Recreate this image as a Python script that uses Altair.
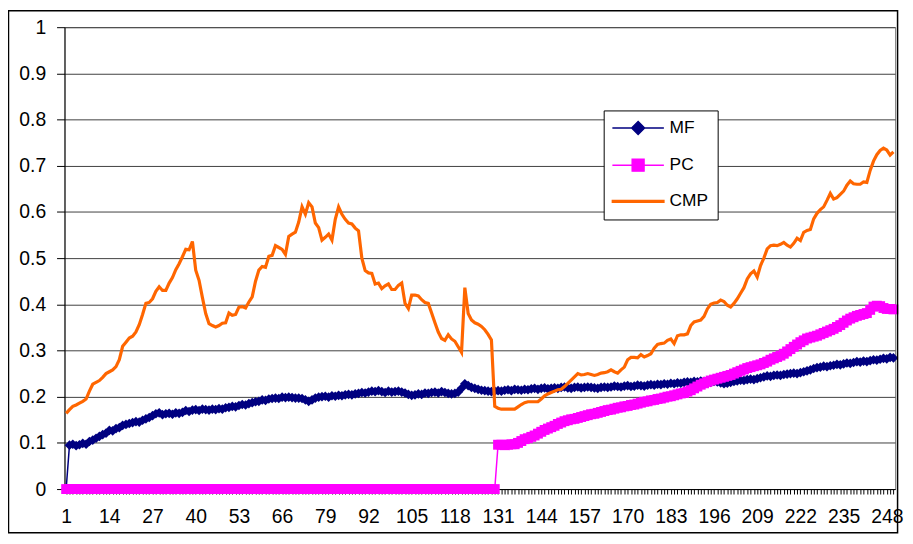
import altair as alt
import pandas as pd

# ---------------- data ----------------
categories = list(range(1, 251))

mf = [
    0.000, 0.095, 0.097, 0.094, 0.096, 0.099, 0.097, 0.103, 0.106, 0.110,
    0.114, 0.118, 0.121, 0.127, 0.126, 0.131, 0.133, 0.138, 0.140, 0.142,
    0.144, 0.146, 0.145, 0.149, 0.152, 0.155, 0.159, 0.163, 0.165, 0.161,
    0.163, 0.164, 0.162, 0.165, 0.164, 0.166, 0.170, 0.168, 0.171, 0.172,
    0.170, 0.173, 0.172, 0.171, 0.173, 0.172, 0.174, 0.173, 0.176, 0.177,
    0.179, 0.178, 0.181, 0.183, 0.182, 0.185, 0.187, 0.189, 0.190, 0.193,
    0.192, 0.195, 0.196, 0.197, 0.196, 0.199, 0.198, 0.199, 0.198, 0.197,
    0.197, 0.196, 0.193, 0.190, 0.193, 0.197, 0.199, 0.200, 0.201, 0.199,
    0.202, 0.201, 0.203, 0.202, 0.204, 0.205, 0.204, 0.206, 0.207, 0.209,
    0.208, 0.210, 0.212, 0.211, 0.213, 0.211, 0.209, 0.212, 0.210, 0.211,
    0.212, 0.210, 0.208, 0.205, 0.203, 0.204, 0.206, 0.205, 0.208, 0.207,
    0.209, 0.210, 0.208, 0.211, 0.209, 0.207, 0.206, 0.207, 0.210, 0.218,
    0.228, 0.224, 0.220, 0.218, 0.216, 0.214, 0.213, 0.212, 0.211, 0.212,
    0.213, 0.212, 0.214, 0.215, 0.213, 0.216, 0.215, 0.214, 0.216, 0.215,
    0.217, 0.218, 0.216, 0.218, 0.219, 0.217, 0.218, 0.219, 0.218, 0.220,
    0.221, 0.219, 0.218, 0.220, 0.221, 0.219, 0.220, 0.221, 0.220, 0.219,
    0.218, 0.220, 0.221, 0.220, 0.221, 0.223, 0.222, 0.221, 0.223, 0.224,
    0.222, 0.223, 0.225, 0.224, 0.223, 0.225, 0.226, 0.225, 0.227, 0.226,
    0.228, 0.227, 0.229, 0.228, 0.230, 0.229, 0.231, 0.232, 0.231, 0.233,
    0.232, 0.234, 0.233, 0.232, 0.231, 0.233, 0.232, 0.230, 0.228, 0.229,
    0.231, 0.233, 0.234, 0.236, 0.235, 0.237, 0.238, 0.237, 0.239, 0.241,
    0.243, 0.245, 0.244, 0.246, 0.247, 0.246, 0.248, 0.249, 0.250, 0.251,
    0.250, 0.252, 0.254, 0.256, 0.258, 0.261, 0.263, 0.264, 0.266, 0.265,
    0.267, 0.268, 0.270, 0.269, 0.271, 0.273, 0.272, 0.274, 0.276, 0.275,
    0.277, 0.276, 0.278, 0.280, 0.279, 0.281, 0.283, 0.282, 0.285, 0.284,
]

pc = [0.0] * 130 + [
    0.096, 0.096, 0.095, 0.096, 0.097, 0.097, 0.100, 0.104, 0.108, 0.110,
    0.113, 0.116, 0.120, 0.124, 0.128, 0.131, 0.134, 0.137, 0.141, 0.144,
    0.147, 0.149, 0.151, 0.152, 0.154, 0.156, 0.158, 0.160, 0.162, 0.163,
    0.165, 0.167, 0.169, 0.171, 0.172, 0.174, 0.176, 0.177, 0.179, 0.180,
    0.182, 0.183, 0.185, 0.187, 0.189, 0.190, 0.192, 0.193, 0.195, 0.196,
    0.198, 0.200, 0.201, 0.203, 0.205, 0.207, 0.208, 0.211, 0.214, 0.218,
    0.222, 0.226, 0.229, 0.232, 0.235, 0.237, 0.239, 0.241, 0.243, 0.245,
    0.247, 0.250, 0.253, 0.256, 0.259, 0.262, 0.264, 0.266, 0.268, 0.270,
    0.273, 0.276, 0.280, 0.283, 0.286, 0.289, 0.293, 0.298, 0.303, 0.308,
    0.313, 0.318, 0.322, 0.326, 0.328, 0.330, 0.332, 0.335, 0.338, 0.341,
    0.344, 0.347, 0.351, 0.355, 0.360, 0.365, 0.369, 0.372, 0.375, 0.377,
    0.379, 0.381, 0.388, 0.395, 0.397, 0.396, 0.392, 0.390, 0.390, 0.389,
]

cmp_vals = [
    0.164, 0.172, 0.179, 0.182, 0.186, 0.190, 0.195, 0.212, 0.227, 0.231,
    0.235, 0.242, 0.250, 0.254, 0.258, 0.265, 0.280, 0.309, 0.318, 0.327,
    0.331, 0.340, 0.356, 0.378, 0.402, 0.404, 0.412, 0.428, 0.438, 0.430,
    0.430, 0.446, 0.458, 0.475, 0.488, 0.503, 0.519, 0.518, 0.536, 0.474,
    0.452, 0.415, 0.380, 0.358, 0.354, 0.351, 0.354, 0.359, 0.360, 0.381,
    0.376, 0.378, 0.394, 0.395, 0.392, 0.405, 0.416, 0.450, 0.474, 0.482,
    0.480, 0.504, 0.506, 0.527, 0.523, 0.519, 0.508, 0.547, 0.552, 0.556,
    0.578, 0.611, 0.595, 0.620, 0.611, 0.576, 0.566, 0.539, 0.545, 0.552,
    0.539, 0.584, 0.611, 0.595, 0.584, 0.576, 0.574, 0.565, 0.559, 0.500,
    0.473, 0.468, 0.467, 0.444, 0.446, 0.434, 0.440, 0.444, 0.432, 0.432,
    0.441, 0.446, 0.402, 0.391, 0.420, 0.420, 0.418, 0.410, 0.404, 0.402,
    0.381, 0.360, 0.340, 0.326, 0.322, 0.334, 0.325, 0.320, 0.308, 0.296,
    0.436, 0.380, 0.366, 0.360, 0.357, 0.352, 0.345, 0.335, 0.323, 0.179,
    0.175, 0.173, 0.173, 0.173, 0.173, 0.173, 0.178, 0.183, 0.187, 0.189,
    0.189, 0.189, 0.189, 0.195, 0.202, 0.206, 0.209, 0.212, 0.215, 0.216,
    0.222, 0.229, 0.236, 0.243, 0.250, 0.247, 0.248, 0.250, 0.248, 0.246,
    0.248, 0.251, 0.252, 0.254, 0.258, 0.254, 0.251, 0.258, 0.264, 0.280,
    0.285, 0.285, 0.284, 0.291, 0.286, 0.289, 0.293, 0.305, 0.313, 0.315,
    0.316, 0.322, 0.325, 0.315, 0.332, 0.334, 0.334, 0.336, 0.354, 0.362,
    0.364, 0.366, 0.374, 0.390, 0.400, 0.403, 0.404, 0.409, 0.406, 0.398,
    0.394, 0.402, 0.412, 0.424, 0.436, 0.455, 0.466, 0.472, 0.459, 0.484,
    0.500, 0.520, 0.527, 0.528, 0.527, 0.530, 0.534, 0.528, 0.524, 0.532,
    0.543, 0.538, 0.556, 0.560, 0.562, 0.585, 0.597, 0.605, 0.611, 0.625,
    0.640, 0.628, 0.631, 0.638, 0.645, 0.658, 0.667, 0.661, 0.660, 0.660,
    0.665, 0.664, 0.690, 0.710, 0.724, 0.733, 0.738, 0.734, 0.723, 0.730,
]

series_names = ["MF", "PC", "CMP"]
series_colors = ["#000080", "#FF00FF", "#FF6600"]
y_ticks = [0, 0.1, 0.2, 0.3, 0.4, 0.5, 0.6, 0.7, 0.8, 0.9, 1]
x_label_step = 13

assert len(mf) == len(pc) == len(cmp_vals) == len(categories)

rows = []
for name, vals in zip(series_names, [mf, pc, cmp_vals]):
    for i, v in zip(categories, vals):
        rows.append({"idx": i, "value": v, "series": name})
df = pd.DataFrame(rows)

# ---------------- chart ----------------
W, H = 838, 466
FONT = "Liberation Sans"

# legend symbols: a line with the series marker, in units of sqrt(size)/2
legend_paths = [
    "M-5,0L5,0M0,-1.25L1.25,0L0,1.25L-1.25,0Z",
    "M-5,0L5,0M-1.15,-1.15L1.15,-1.15L1.15,1.15L-1.15,1.15Z",
    "M-5,-0.18L5,-0.18L5,0.18L-5,0.18Z",
]

legend = alt.Legend(
    title=None, orient="none", legendX=544, legendY=84,
    fillColor="white", strokeColor="black", padding=9,
    labelFont=FONT, labelFontSize=17.5, labelColor="black", labelLimit=200,
    symbolSize=108, symbolStrokeWidth=1.5, symbolOffset=17,
    labelOffset=23, rowPadding=17.5,
)

color_scale = alt.Scale(domain=series_names, range=series_colors)

x_enc = alt.X(
    "idx:Q",
    scale=alt.Scale(domain=[0.5, len(categories) + 0.5], nice=False, zero=False),
    axis=alt.Axis(
        values=categories, title=None, grid=False, tickSize=5, labelPadding=14,
        labelOverlap=False, format="d",
        labelFont=FONT, labelFontSize=19.5, labelColor="black",
        domainColor="black", tickColor="black",
        labelExpr=f"(datum.value - 1) % {x_label_step} == 0 ? datum.label : ''",
    ),
)
y_enc = alt.Y(
    "value:Q",
    scale=alt.Scale(domain=[0, 1], nice=False),
    axis=alt.Axis(
        values=y_ticks, title=None, grid=True, tickSize=8, labelPadding=11,
        format="~g",
        labelFont=FONT, labelFontSize=19.5, labelColor="black",
        domainColor="black", tickColor="black",
        gridColor="#404040", gridWidth=1,
    ),
)
color_enc = alt.Color("series:N", scale=color_scale, legend=legend)

base = alt.Chart(df)

legend_layer = base.transform_filter("datum.idx < 0").mark_point(
    filled=True, opacity=1
).encode(
    x=x_enc, y=y_enc, color=color_enc,
    shape=alt.Shape("series:N", scale=alt.Scale(domain=series_names, range=legend_paths),
                    legend=legend),
)

mf_layer = base.transform_filter("datum.series == 'MF'").mark_line(
    strokeWidth=1.5,
    point=alt.OverlayMarkDef(shape="diamond", filled=True, size=95, strokeWidth=1),
).encode(x=x_enc, y=y_enc, color=color_enc)

pc_layer = base.transform_filter("datum.series == 'PC'").mark_line(
    strokeWidth=1.5,
    point=alt.OverlayMarkDef(shape="square", filled=True, size=100, strokeWidth=1),
).encode(x=x_enc, y=y_enc, color=color_enc)

cmp_layer = base.transform_filter("datum.series == 'CMP'").mark_line(
    strokeWidth=3.2,
).encode(x=x_enc, y=y_enc, color=color_enc)

frame = alt.Chart(alt.Data(values=[{"a": 1}])).mark_rect(
    fill=None, stroke="black", strokeWidth=1.5
).encode(
    x=alt.value(-56.5), x2=alt.value(W + 2.5),
    y=alt.value(-16.5), y2=alt.value(H + 44),
)

chart = alt.layer(legend_layer, mf_layer, pc_layer, cmp_layer, frame).properties(
    width=W, height=H,
    background="white",
    autosize=alt.AutoSizeParams(type="none"),
    padding={"left": 57, "top": 17, "right": 10, "bottom": 45},
).configure_view(
    stroke="#808080", strokeWidth=1,
)

chart.save("out.html", embed_options={"renderer": "svg", "actions": False})
